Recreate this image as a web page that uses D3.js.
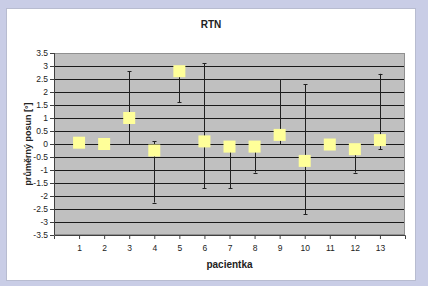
<!DOCTYPE html>
<html>
<head>
<meta charset="utf-8">
<script src="https://cdn.jsdelivr.net/npm/d3@7"></script>
<style>
  html, body { margin: 0; padding: 0; background: #c9cde6; }
  svg { display: block; }
  text { font-family: "Liberation Sans", Arial, sans-serif; }
</style>
</head>
<body>
<div id="chart"></div>
<script>
let width = 428;
let height = 286;

// data
let patients = [1, 2, 3, 4, 5, 6, 7, 8, 9, 10, 11, 12, 13];
let means = [0.05, 0.0, 1.0, -0.25, 2.8, 0.1, -0.1, -0.1, 0.35, -0.65, -0.02, -0.2, 0.15];
let upper = [null, null, 2.8, 0.1, null, 3.1, null, null, 2.5, 2.3, null, null, 2.7];
let lower = [null, null, 0.0, -2.25, 1.6, -1.7, -1.7, -1.1, 0.0, -2.7, null, -1.1, -0.2];
let yTicks = [-3.5, -3, -2.5, -2, -1.5, -1, -0.5, 0, 0.5, 1, 1.5, 2, 2.5, 3, 3.5];

let plot = {left: 54, right: 405, top: 53, bottom: 235};

let svg = d3.select("#chart").append("svg")
  .attr("width", width)
  .attr("height", height);

svg.append("rect")
  .attr("x", 0).attr("y", 0)
  .attr("width", width).attr("height", height)
  .attr("fill", "#c9cde6");

svg.append("rect")
  .attr("x", 6.5).attr("y", 8.5)
  .attr("width", 409).attr("height", 272)
  .attr("fill", "#ffffff")
  .attr("stroke", "#b8bcd0");

let xScale = d3.scaleLinear()
  .domain([0, 14])
  .range([plot.left, plot.right]);

let yScale = d3.scaleLinear()
  .domain([-3.5, 3.5])
  .range([plot.bottom, plot.top]);

svg.append("rect")
  .attr("x", plot.left).attr("y", plot.top)
  .attr("width", plot.right - plot.left)
  .attr("height", plot.bottom - plot.top)
  .attr("fill", "#c0c0c0");

// gridlines
svg.append("g")
  .selectAll("line")
  .data(yTicks.slice(1))
  .enter().append("line")
  .attr("x1", plot.left).attr("x2", plot.right)
  .attr("y1", d => Math.round(yScale(d)) + 0.5)
  .attr("y2", d => Math.round(yScale(d)) + 0.5)
  .attr("stroke", "#1a1a1a")
  .attr("stroke-width", 1);

// frame
svg.append("rect")
  .attr("x", plot.left + 0.5).attr("y", plot.top + 0.5)
  .attr("width", plot.right - plot.left - 1)
  .attr("height", plot.bottom - plot.top - 1)
  .attr("fill", "none")
  .attr("stroke", "#909090");

let yAxis = d3.axisLeft(yScale)
  .tickValues(yTicks)
  .tickSize(4)
  .tickPadding(2)
  .tickFormat(d => String(d));

let xAxis = d3.axisBottom(xScale)
  .tickValues(patients)
  .tickSize(4)
  .tickPadding(6)
  .tickFormat(d => d);

let gy = svg.append("g")
  .attr("transform", `translate(${plot.left},0)`)
  .call(yAxis);

let gx = svg.append("g")
  .attr("transform", `translate(0,${plot.bottom})`)
  .call(xAxis);

[gx, gy].forEach(g => {
  g.select(".domain").attr("stroke", "#404040");
  g.selectAll(".tick line").attr("stroke", "#404040");
  g.selectAll("text")
    .attr("fill", "#222")
    .attr("font-size", "8.5px")
    .attr("font-family", "Liberation Sans, Arial, sans-serif");
});
gy.select(".domain").remove();
gy.append("line")
  .attr("x1", 0.5).attr("x2", 0.5)
  .attr("y1", plot.top).attr("y2", plot.bottom)
  .attr("stroke", "#404040");

// error bars
let bars = svg.append("g");
patients.forEach((p, i) => {
  let cx = Math.round(xScale(p)) + 0.5;
  let top = upper[i] != null ? upper[i] : means[i];
  let bot = lower[i] != null ? lower[i] : means[i];
  if (top === bot) return;
  bars.append("line")
    .attr("x1", cx).attr("x2", cx)
    .attr("y1", yScale(top)).attr("y2", yScale(bot))
    .attr("stroke", "#202020");
  [upper[i], lower[i]].forEach(v => {
    if (v == null) return;
    bars.append("line")
      .attr("x1", cx - 2).attr("x2", cx + 2)
      .attr("y1", Math.round(yScale(v)) + 0.5)
      .attr("y2", Math.round(yScale(v)) + 0.5)
      .attr("stroke", "#202020");
  });
});

// markers
let size = 12;
svg.append("g")
  .selectAll("rect")
  .data(patients)
  .enter().append("rect")
  .attr("x", (d, i) => xScale(d) - size / 2)
  .attr("y", (d, i) => yScale(means[i]) - size / 2)
  .attr("width", size)
  .attr("height", size)
  .attr("fill", "#ffff99");

svg.append("text")
  .text("RTN")
  .attr("x", 211).attr("y", 28)
  .attr("text-anchor", "middle")
  .attr("font-size", "10px")
  .attr("font-weight", "bold")
  .attr("fill", "#222");

svg.append("text")
  .text("pacientka")
  .attr("x", (plot.left + plot.right) / 2).attr("y", 268)
  .attr("text-anchor", "middle")
  .attr("font-size", "10px")
  .attr("font-weight", "bold")
  .attr("fill", "#222");

svg.append("text")
  .text("průměrný posun [°]")
  .attr("transform", `translate(31,${(plot.top + plot.bottom) / 2}) rotate(-90)`)
  .attr("text-anchor", "middle")
  .attr("font-size", "9px")
  .attr("font-weight", "bold")
  .attr("fill", "#222");
</script>
</body>
</html>
